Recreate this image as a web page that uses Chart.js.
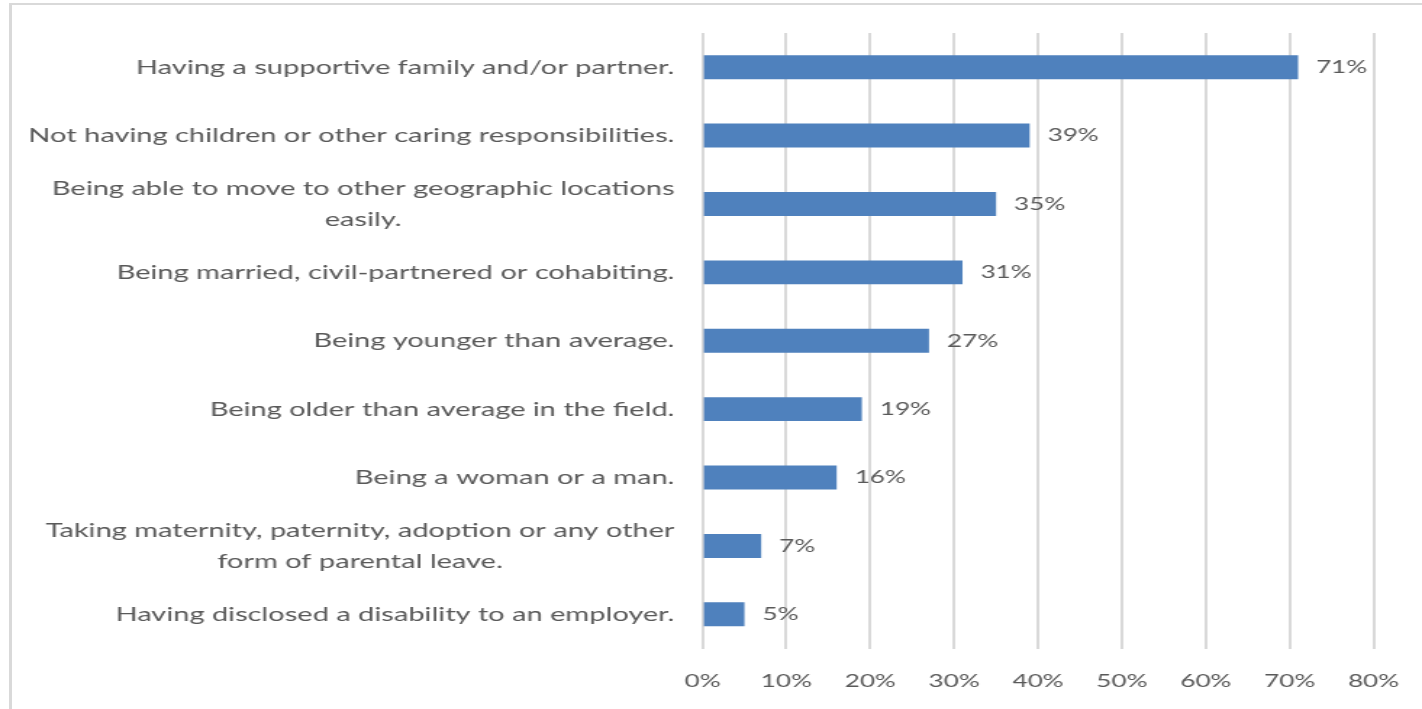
<!DOCTYPE html>
<html>
<head>
<meta charset="utf-8">
<script src="https://cdn.jsdelivr.net/npm/chart.js@4/dist/chart.umd.min.js"></script>
<style>
  html, body { margin: 0; padding: 0; background: #ffffff; overflow: hidden; }
  #wrap { position: relative; width: 1422px; height: 709px; }
  #frame {
    position: absolute; left: 9px; top: 3px; right: -10px; bottom: -10px;
    border-left: 3px solid #d9d9d9; border-top: 2px solid #d9d9d9;
  }
  #chart { position: absolute; left: 0; top: 0; transform-origin: 0 0; }
</style>
</head>
<body>
<div id="wrap">
  <div id="frame"></div>
  <canvas id="chart"></canvas>
</div>
<script>
// Survey answers: factors seen as helping a career
const categories = [
  'Having a supportive family and/or partner.',
  'Not having children or other caring responsibilities.',
  ['Being able to move to other geographic locations', 'easily.'],
  'Being married, civil-partnered or cohabiting.',
  'Being younger than average.',
  'Being older than average in the field.',
  'Being a woman or a man.',
  ['Taking maternity, paternity, adoption or any other', 'form of parental leave.'],
  'Having disclosed a disability to an employer.'
];
const percentages = [71, 39, 35, 31, 27, 19, 16, 7, 5];
const axisTicks = [0, 10, 20, 30, 40, 50, 60, 70, 80];

// The drawing is laid out on a narrower canvas and widened horizontally
const STRETCH = 1.45;
const PAGE_W = 1422, PAGE_H = 709;
const W = Math.round(PAGE_W / STRETCH);
const sx = v => v / STRETCH;

const TEXT = '#595959';
const FONT = 'Lato, "Open Sans", sans-serif';
const AREA_LEFT = sx(702.7), AREA_RIGHT = sx(1374);
const AREA_TOP = 33, AREA_BOTTOM = 648.5;

const canvas = document.getElementById('chart');
canvas.width = W; canvas.height = PAGE_H;
canvas.style.width = W + 'px'; canvas.style.height = PAGE_H + 'px';
canvas.style.transform = 'scaleX(' + (PAGE_W / W) + ')';

// Category labels: block right-aligned to the axis, lines centred within the block
const categoryLabels = {
  id: 'categoryLabels',
  afterDraw(chart) {
    const ctx = chart.ctx, y = chart.scales.y;
    ctx.save();
    ctx.font = '20px ' + FONT;
    ctx.fillStyle = TEXT;
    ctx.textAlign = 'center';
    ctx.textBaseline = 'middle';
    const right = chart.chartArea.left - sx(28);
    categories.forEach((lab, i) => {
      const lines = Array.isArray(lab) ? lab : [lab];
      const w = Math.max(...lines.map(l => ctx.measureText(l).width));
      const cx = right - w / 2;
      const cy = y.getPixelForValue(i);
      const lh = 31;
      lines.forEach((l, k) => {
        ctx.fillText(l, cx, cy + (k - (lines.length - 1) / 2) * lh);
      });
    });
    ctx.restore();
  }
};

// Value labels to the right of each bar
const valueLabels = {
  id: 'valueLabels',
  afterDatasetsDraw(chart) {
    const ctx = chart.ctx;
    const meta = chart.getDatasetMeta(0);
    ctx.save();
    ctx.font = '18px ' + FONT;
    ctx.fillStyle = TEXT;
    ctx.textAlign = 'left';
    ctx.textBaseline = 'middle';
    meta.data.forEach((bar, i) => {
      ctx.fillText(percentages[i] + '%', bar.x + sx(18), bar.y);
    });
    ctx.restore();
  }
};

new Chart(canvas, {
  type: 'bar',
  data: {
    labels: categories,
    datasets: [{
      data: percentages,
      backgroundColor: '#4f81bd',
      borderWidth: 0,
      categoryPercentage: 1,
      barPercentage: 0.35
    }]
  },
  options: {
    indexAxis: 'y',
    responsive: false,
    animation: false,
    devicePixelRatio: 1,
    layout: { padding: { top: AREA_TOP, right: W - AREA_RIGHT, bottom: 0, left: 0 } },
    plugins: { legend: { display: false }, tooltip: { enabled: false } },
    scales: {
      x: {
        min: 0, max: 80,
        afterBuildTicks(scale) { scale.ticks = axisTicks.map(v => ({ value: v })); },
        afterFit(scale) {
          scale.height = PAGE_H - AREA_BOTTOM;
          scale.paddingLeft = 0;
          scale.paddingRight = 0;
        },
        grid: { color: '#d9d9d9', lineWidth: 2, drawTicks: false },
        border: { display: false },
        ticks: {
          color: TEXT,
          font: { family: FONT, size: 18 },
          padding: 22,
          callback: v => v + '%'
        }
      },
      y: {
        afterFit(scale) { scale.width = AREA_LEFT; },
        grid: { display: false },
        border: { display: false },
        ticks: { display: false }
      }
    }
  },
  plugins: [categoryLabels, valueLabels]
});
</script>
</body>
</html>
